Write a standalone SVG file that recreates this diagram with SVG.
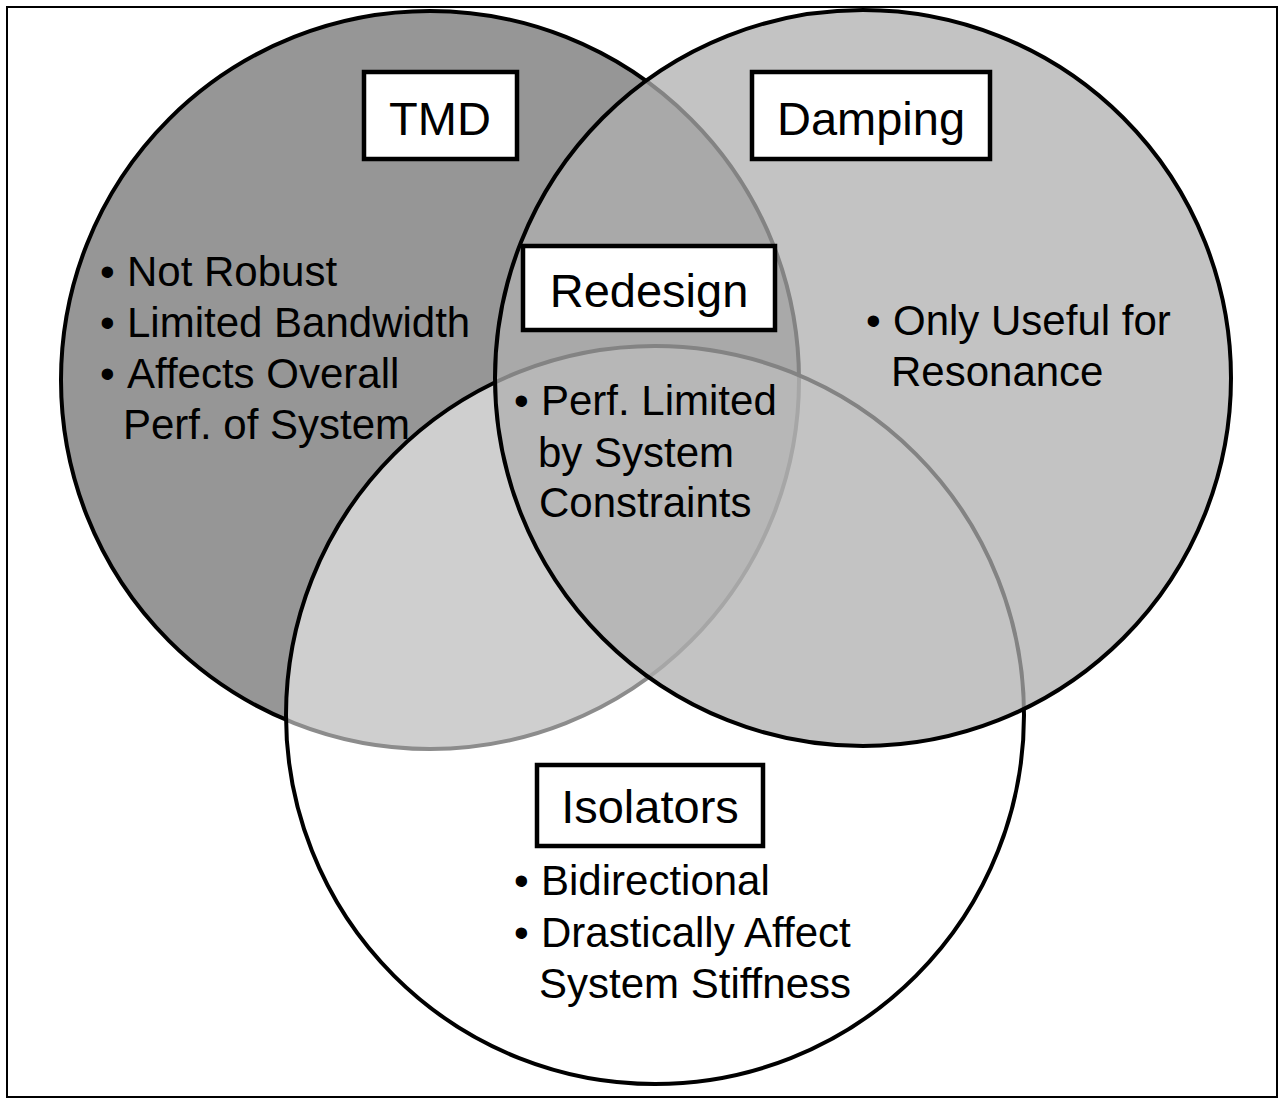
<svg xmlns="http://www.w3.org/2000/svg" width="1285" height="1104" viewBox="0 0 1285 1104">
<style>
.ring{stroke:#000;stroke-width:4}
.box{fill:#fff;stroke:#000;stroke-width:4.5}
.lbl{font-family:"Liberation Sans",Arial,sans-serif;font-size:47px;fill:#000;text-anchor:middle}
.txt{font-family:"Liberation Sans",Arial,sans-serif;font-size:42px;fill:#000}
</style>
<rect x="0" y="0" width="1285" height="1104" fill="#fff"/>
<rect id="frame" x="7" y="7" width="1270" height="1090" fill="none" stroke="#000" stroke-width="2"/>
<g id="regions">
  <circle id="tmd-circle" class="ring" cx="430" cy="380" r="369" fill="#969696"/>
  <circle id="isolators-circle" class="ring" cx="655" cy="715" r="369" fill="#fff" fill-opacity="0.55"/>
  <circle id="damping-circle" class="ring" cx="863" cy="378" r="368" fill="#afafaf" fill-opacity="0.75"/>
</g>
<g id="tmd">
  <rect class="box" x="364" y="72" width="153" height="87"/>
  <text class="lbl" x="440" y="135">TMD</text>
  <text class="txt"><tspan x="100" y="286">•</tspan><tspan x="127" y="286">Not Robust</tspan></text>
  <text class="txt"><tspan x="100" y="337">•</tspan><tspan x="127" y="337">Limited Bandwidth</tspan></text>
  <text class="txt"><tspan x="100" y="388">•</tspan><tspan x="127" y="388">Affects Overall</tspan></text>
  <text class="txt" x="123" y="439">Perf. of System</text>
</g>
<g id="damping">
  <rect class="box" x="752" y="72" width="238" height="87"/>
  <text class="lbl" x="871" y="135">Damping</text>
  <text class="txt"><tspan x="866" y="335">•</tspan><tspan x="893" y="335">Only Useful for</tspan></text>
  <text class="txt" x="891" y="386">Resonance</text>
</g>
<g id="redesign">
  <rect class="box" x="523" y="246" width="252" height="84"/>
  <text class="lbl" x="649" y="307">Redesign</text>
  <text class="txt"><tspan x="514" y="415">•</tspan><tspan x="541" y="415">Perf. Limited</tspan></text>
  <text class="txt" x="538" y="467">by System</text>
  <text class="txt" x="539" y="517">Constraints</text>
</g>
<g id="isolators">
  <rect class="box" x="537" y="765" width="226" height="81"/>
  <text class="lbl" x="650" y="823">Isolators</text>
  <text class="txt"><tspan x="514" y="895">•</tspan><tspan x="541" y="895">Bidirectional</tspan></text>
  <text class="txt"><tspan x="514" y="947">•</tspan><tspan x="541" y="947">Drastically Affect</tspan></text>
  <text class="txt" x="539" y="998">System Stiffness</text>
</g>
</svg>
